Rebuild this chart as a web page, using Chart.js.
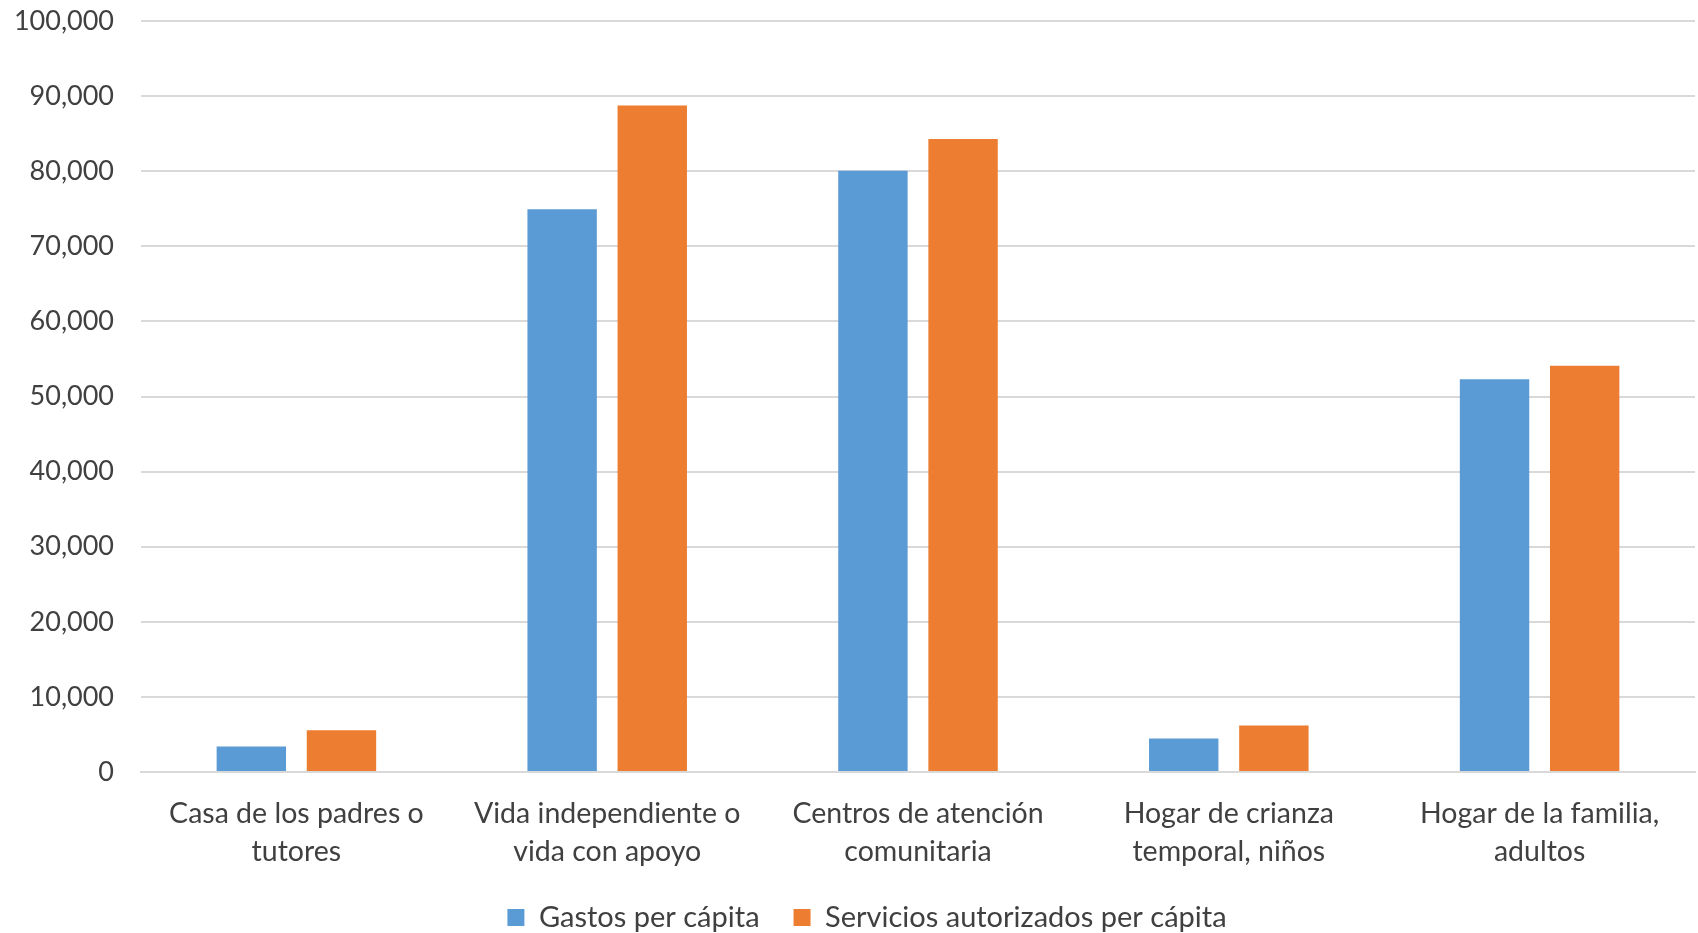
<!DOCTYPE html>
<html>
<head>
<meta charset="utf-8">
<script src="https://cdn.jsdelivr.net/npm/chart.js@4"></script>
<style>
  html, body { margin: 0; padding: 0; background: #ffffff; overflow: hidden; }
  #wrap { width: 1698px; height: 933px; position: relative; }
</style>
</head>
<body>
<div id="wrap"><canvas id="chart"></canvas></div>
<script>
// Categories (each entry is the label split into lines)
const categories = [
  ["Casa de los padres o", "tutores"],
  ["Vida independiente o", "vida con apoyo"],
  ["Centros de atención", "comunitaria"],
  ["Hogar de crianza", "temporal, niños"],
  ["Hogar de la familia,", "adultos"]
];

// Series values (per cápita)
const gastosPerCapita = [3400, 74950, 80050, 4450, 52300];
const serviciosAutorizadosPerCapita = [5550, 88750, 84300, 6200, 54100];

// Series names
const seriesNames = ["Gastos per cápita", "Servicios autorizados per cápita"];

// Y axis range and step
const yMin = 0;
const yMax = 100000;
const yStep = 10000;

const FONT = "Lato, 'Open Sans', sans-serif";
const TEXT = "#404040";
const GRID = "#d9d9d9";

const LEGEND_PAD = 34;

// Nudges the legend so it sits centred under the plot area rather than the canvas
const legendShift = {
  id: "legendShift",
  afterLayout(chart) {
    const lg = chart.legend;
    if (!lg) return;
    const dx = (chart.chartArea.left + chart.chartArea.right) / 2 - (lg.left + lg.right) / 2 - 51;
    lg.left += dx;
    lg.right += dx;
  }
};

new Chart(document.getElementById("chart"), {
  type: "bar",
  data: {
    labels: categories,
    datasets: [
      {
        label: seriesNames[0],
        data: gastosPerCapita,
        backgroundColor: "#5B9BD5",
        categoryPercentage: 0.58,
        barPercentage: 0.77
      },
      {
        label: seriesNames[1],
        data: serviciosAutorizadosPerCapita,
        backgroundColor: "#ED7D31",
        categoryPercentage: 0.58,
        barPercentage: 0.77
      }
    ]
  },
  plugins: [legendShift],
  options: {
    responsive: true,
    maintainAspectRatio: false,
    animation: false,
    layout: { padding: { top: 21, right: 3, left: 0, bottom: 0 } },
    plugins: {
      tooltip: { enabled: false },
      legend: {
        position: "bottom",
        maxHeight: LEGEND_PAD + 30,
        labels: {
          color: TEXT,
          font: { family: FONT, size: 29 },
          boxWidth: 17,
          boxHeight: 17,
          padding: LEGEND_PAD
        }
      }
    },
    scales: {
      x: {
        grid: { display: false, drawTicks: false },
        border: { display: true, color: GRID, width: 2 },
        ticks: {
          color: TEXT,
          font: { family: FONT, size: 28.5, lineHeight: 1.33 },
          padding: 23,
          maxRotation: 0,
          autoSkip: false
        },
        afterFit: (scale) => { scale.height = 97; }
      },
      y: {
        min: yMin,
        max: yMax,
        grid: { color: GRID, lineWidth: 2, drawTicks: true, tickLength: 24, tickColor: "rgba(0,0,0,0)" },
        border: { display: false },
        ticks: {
          stepSize: yStep,
          color: TEXT,
          font: { family: FONT, size: 27 },
          padding: 3,
          callback: (v) => v.toLocaleString("en-US")
        },
        afterFit: (scale) => { scale.width = 141; }
      }
    }
  }
});
</script>
</body>
</html>
